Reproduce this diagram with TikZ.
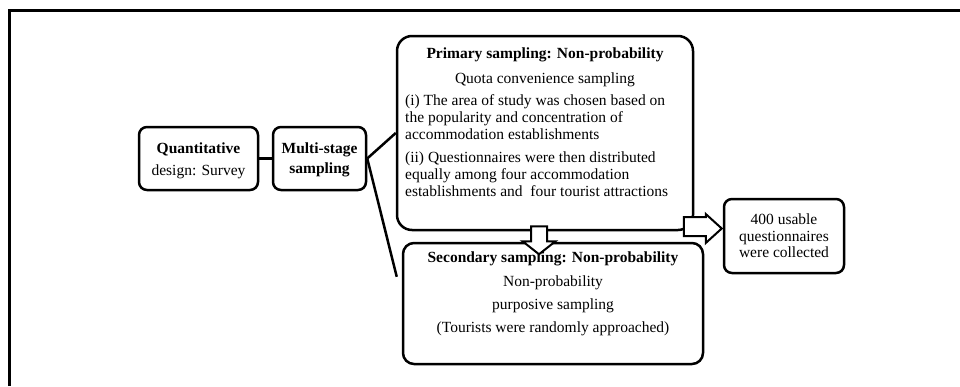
\documentclass[tikz,border=0pt]{standalone}
\usepackage{fontspec}
\setmainfont{Liberation Serif}
\usetikzlibrary{calc}
\begin{document}
\begin{tikzpicture}[x=1pt,y=-1pt,
  box/.style={draw, line width=2.5pt, rounded corners=8pt, inner sep=0pt},
  conn/.style={line width=2.5pt},
  txt/.style={inner sep=0pt, anchor=base, font=\fontsize{15.5}{17}\selectfont},
  txtb/.style={txt, font=\fontsize{15.5}{17}\selectfont\bfseries},
  txtl/.style={inner sep=0pt, anchor=base west, font=\fontsize{15.5}{17}\selectfont},
  blockarrow/.style={draw, fill=white, line width=2pt, line join=miter}]
\useasboundingbox (0,0) rectangle (960,386);
% frame
\draw[line width=3pt] (9,386) -- (9,10) -- (960,10);
% boxes
\node[box, minimum width=119pt, minimum height=63pt] (quant) at (198.5,158.5) {};
\node[box, minimum width=93pt, minimum height=63pt] (multi) at (319.5,158.5) {};
\node[box, rounded corners=15pt, minimum width=296pt, minimum height=194pt] (prim) at (545,133) {};
\node[box, rounded corners=11pt, minimum width=300pt, minimum height=121pt] (sec) at (553,303.5) {};
\node[box, minimum width=120pt, minimum height=74pt] (res) at (784,236) {};
% connectors
\coordinate (secend) at ($(sec.north west)+(-5,35)$);
\draw[conn] (quant.east) -- (multi.west);
\draw[conn] (multi.east) -- (prim.west);
\draw[conn] (multi.east) -- (secend);
% texts
\node[txtb] (q1) at (198.5,153) {Quantitative};
\node[txt] (q2) at (198.5,175) {design: Survey};
\node[txtb] (m1) at (319.5,153) {Multi-stage};
\node[txtb] (m2) at (319.5,173) {sampling};
\node[txtb] (p0) at (545,58) {Primary sampling: Non-probability};
\node[txt] (p1) at (545,83) {Quota convenience sampling};
\node[txtl] (p2) at (405,105) {(i) The area of study was chosen based on};
\node[txtl] (p3) at (405,122) {the popularity and concentration of};
\node[txtl] (p4) at (405,139) {accommodation establishments};
\node[txtl] (p5) at (405,162) {(ii) Questionnaires were then distributed};
\node[txtl] (p6) at (405,179) {equally among four accommodation};
\node[txtl] (p7) at (405,196) {establishments and\ \ four tourist attractions};
\node[txtb] (s0) at (553,262) {Secondary sampling: Non-probability};
\node[txt] (s1) at (553,286) {Non-probability};
\node[txt] (s2) at (553,309) {purposive sampling};
\node[txt] (s3) at (553,332) {(Tourists were randomly approached)};
\node[txt] (r1) at (784,224) {400 usable};
\node[txt] (r2) at (784,241) {questionnaires};
\node[txt] (r3) at (784,257) {were collected};
% block arrows
\draw[blockarrow] ($(prim.south)+(-14,-5)$) -- ($(prim.south)+(2,-5)$) -- ($(prim.south)+(2,10)$)
  -- ($(prim.south)+(10.5,10)$) -- ($(prim.south)+(-6,23)$) -- ($(prim.south)+(-22.5,10)$)
  -- ($(prim.south)+(-14,10)$) -- cycle;
\draw[blockarrow] ($(res.west)+(-39,-19)$) -- ($(res.west)+(-17,-19)$) -- ($(res.west)+(-17,-22)$)
  -- ($(res.west)+(-1,-7.5)$) -- ($(res.west)+(-17,7)$) -- ($(res.west)+(-17,0)$)
  -- ($(res.west)+(-39,0)$) -- cycle;
\end{tikzpicture}
\end{document}
